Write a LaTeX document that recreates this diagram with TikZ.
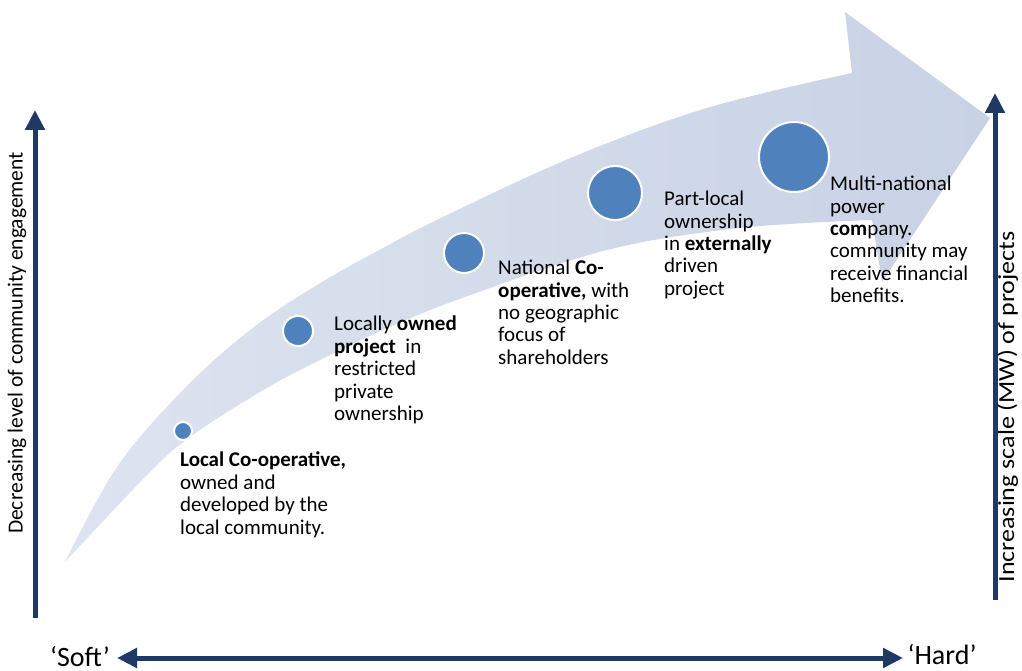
\documentclass[tikz,border=0pt]{standalone}
\usepackage{fontspec}
\setmainfont{Carlito}
\usetikzlibrary{arrows.meta}
\definecolor{navy}{RGB}{32,56,100}
\definecolor{bandA}{RGB}{222,228,239}
\definecolor{bandB}{RGB}{200,210,229}
\definecolor{dotblue}{RGB}{79,129,189}
\begin{document}
\begin{tikzpicture}[x=1pt,y=-1pt,
  axis/.style={draw=navy, line width=5pt},
  tri/.tip={Triangle[width=19pt,length=20pt]},
  dot/.style={circle, fill=dotblue, draw=white, line width=2pt, inner sep=0pt},
  lbl/.style={anchor=north west, align=left, inner sep=0pt, text=black,
              font=\fontsize{21}{22.4}\selectfont},
  endlbl/.style={font=\fontsize{28}{30}\selectfont, inner sep=0pt}]
\useasboundingbox (0,0) rectangle (1022,671);

% big curved arrow
\shade[left color=bandA, right color=bandB]
  plot[smooth, tension=0.6] coordinates {(65,562) (117,467) (183,390) (250,330) (317,285) (383,248) (445,216) (573,157) (707,108) (852,73)}
  -- (845,12) -- (990,118) -- (882,282) -- (872,220)
  -- plot[smooth, tension=0.6] coordinates {(872,220) (740,228) (607,250) (465,297) (383,330) (300,370) (250,398) (190,437) (150,472) (65,562)}
  -- cycle;

% dots
\node[dot, minimum size=18pt] (d1) at (183,431) {};
\node[dot, minimum size=30pt] (d2) at (298,331) {};
\node[dot, minimum size=40pt] (d3) at (464,253) {};
\node[dot, minimum size=54pt] (d4) at (615,193) {};
\node[dot, minimum size=70pt] (d5) at (794,157) {};

% texts
\node[lbl] (t1) at (180,452) {\textbf{Local Co-operative,}\\owned and\\developed by the\\local community.};
\node[lbl] (t2) at (334,316) {Locally \textbf{owned}\\\textbf{project}\ \ in\\restricted\\private\\ownership};
\node[lbl] (t3) at (498,260) {National \textbf{Co-}\\\textbf{operative,} with\\no geographic\\focus of\\shareholders};
\node[lbl] (t4) at (664,191) {Part-local\\ownership\\in \textbf{externally}\\driven\\project};
\node[lbl] (t5) at (830,176) {Multi-national\\power\\\textbf{com}pany.\\community may\\receive financial\\benefits.};

% axes
\coordinate (L0) at (35,618);
\coordinate (L1) at (35,110);
\coordinate (R0) at (995,600);
\coordinate (R1) at (995,93);
\coordinate (B0) at (117,658);
\coordinate (B1) at (903,658);
\draw[axis, -{tri}] (L0) -- (L1);
\draw[axis, -{tri}] (R0) -- (R1);
\draw[axis, {tri}-{tri}] (B0) -- (B1);

\node[rotate=90, inner sep=0pt, font=\fontsize{21.5}{24}\selectfont] (lefttxt) at (17,343) {Decreasing level of community engagement};
\node[rotate=90, anchor=base, inner sep=0pt, font=\fontsize{23}{26}\selectfont] (righttxt) at (1014,407) {\scalebox{1.13}[1]{Increasing scale (MW) of projects}};
\node[endlbl] (soft) at (80,656) {‘Soft’};
\node[endlbl] (hard) at (942,654) {‘Hard’};
\end{tikzpicture}
\end{document}
